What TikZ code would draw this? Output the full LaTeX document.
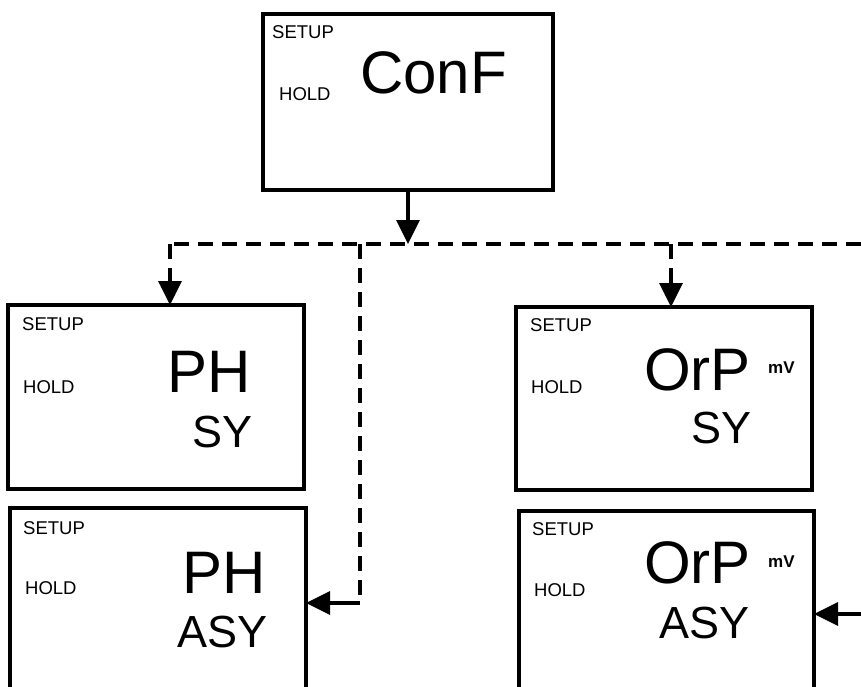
\documentclass[tikz,border=0pt]{standalone}
\usepackage{fontspec}
\setmainfont{Liberation Sans}
\usetikzlibrary{arrows.meta}
\begin{document}
\begin{tikzpicture}[x=1pt,y=-1pt,
  dispbox/.style={draw, line width=3.1pt, inner sep=0pt, outer sep=0pt},
  small/.style={inner sep=0pt, anchor=base west, font=\fontsize{18.5}{20}\selectfont},
  big/.style={inner sep=0pt, anchor=base west, font=\fontsize{60}{64}\selectfont},
  mid/.style={inner sep=0pt, anchor=base west, font=\fontsize{45}{48}\selectfont},
  unit/.style={inner sep=0pt, anchor=base west, font=\fontsize{17}{19}\selectfont\bfseries},
  tip/.style={-{Triangle[length=24pt,width=23pt]}},
  conn/.style={line width=3.3pt, tip},
  dline/.style={line width=3.5pt, dash pattern=on 15pt off 9pt}
]
\useasboundingbox (0,0) rectangle (861,686);
\clip (0,0) rectangle (861,686);

% boxes
\node[dispbox, minimum width=290, minimum height=176] (conf) at (408,102) {};
\node[dispbox, minimum width=296, minimum height=184] (phsy) at (156,397) {};
\node[dispbox, minimum width=296, minimum height=200] (phasy) at (158,608) {};
\node[dispbox, minimum width=296, minimum height=183] (orpsy) at (664,398.5) {};
\node[dispbox, minimum width=295, minimum height=200] (orpasy) at (666.5,611) {};

% texts top box
\node[small] (t1) at (272,38) {SETUP};
\node[small] (t2) at (279,100) {HOLD};
\node[big] (t3) at (360,93) {ConF};

% PH SY
\node[small] (a1) at (22,330) {SETUP};
\node[small] (a2) at (23,393) {HOLD};
\node[big] (a3) at (167,392) {PH};
\node[mid] (a4) at (192,447) {SY};

% PH ASY
\node[small] (b1) at (23,534) {SETUP};
\node[small] (b2) at (25,594) {HOLD};
\node[big] (b3) at (182,593) {PH};
\node[mid] (b4) at (177,647) {ASY};

% OrP SY
\node[small] (c1) at (530,331) {SETUP};
\node[small] (c2) at (531,393) {HOLD};
\node[big] (c3) at (644,390) {OrP};
\node[unit] (c4) at (768,373) {mV};
\node[mid] (c5) at (691,443) {SY};

% OrP ASY
\node[small] (d1) at (532,535) {SETUP};
\node[small] (d2) at (534,596) {HOLD};
\node[big] (d3) at (644,583) {OrP};
\node[unit] (d4) at (768,567) {mV};
\node[mid] (d5) at (659,638) {ASY};

% connectors
\coordinate (split) at (408,244);
\coordinate (hl) at (170,244);
\coordinate (hr) at (861,244);
\coordinate (bx) at (360,244);
\coordinate (bturn) at (360,603);
\coordinate (rx) at (671,244);
\coordinate (rin) at (861,614);

\draw[conn] (conf.south) -- (split);
\draw[dline] (hr) -- (hl);
\draw[dline, tip] (hl) -- (hl |- phsy.north);
\draw[dline] (bx) -- (bturn);
\draw[conn] (bturn) -- (bturn -| phasy.east);
\draw[dline, tip] (rx) -- (rx |- orpsy.north);
\draw[conn] (rin) -- (rin -| orpasy.east);
\end{tikzpicture}
\end{document}
